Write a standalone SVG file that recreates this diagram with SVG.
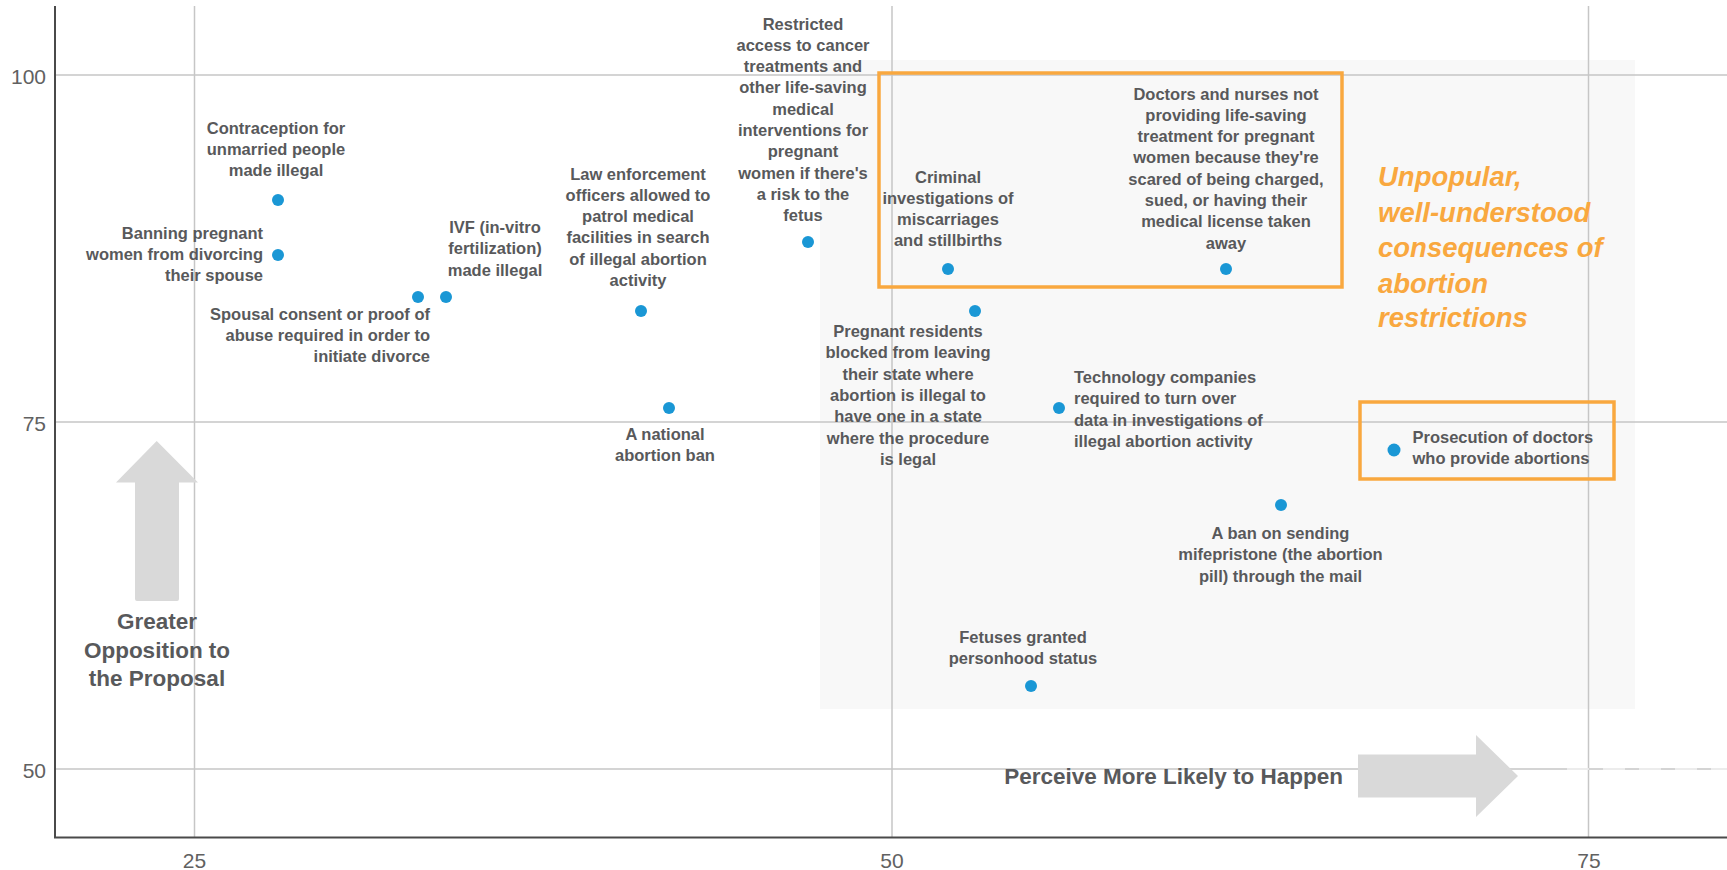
<svg xmlns="http://www.w3.org/2000/svg" width="1727" height="870" viewBox="0 0 1727 870">
<style>
.grid{stroke:#c6c6c6;stroke-width:1.5;fill:none}
.axis{stroke:#4a4a4a;stroke-width:2;fill:none}
.tick{font-family:"Liberation Sans",Arial,sans-serif;font-size:21px;fill:#616161}
.lbl{font-family:"Liberation Sans",Arial,sans-serif;font-size:16.5px;font-weight:700;fill:#58595b}
.big{font-family:"Liberation Sans",Arial,sans-serif;font-size:22.5px;font-weight:700;fill:#58595b}
.note{font-family:"Liberation Sans",Arial,sans-serif;font-size:27.5px;font-weight:700;font-style:italic;fill:#f9a83f}
.dot{fill:#1a97d5}
.hl{fill:none;stroke:#f9a83f;stroke-width:3.5}
.arrow{fill:#d9d9d9}
</style>
<rect x="0" y="0" width="1727" height="870" fill="#ffffff"/>
<rect id="zone" x="820" y="60" width="815" height="649" fill="#f8f8f8"/>
<g id="grid">
<line class="grid" x1="55" y1="75" x2="1727" y2="75"/>
<line class="grid" x1="55" y1="422" x2="1727" y2="422"/>
<line class="grid" x1="55" y1="769" x2="1727" y2="769"/>
<line class="grid" x1="194.5" y1="6" x2="194.5" y2="837"/>
<line class="grid" x1="892" y1="6" x2="892" y2="837"/>
<line class="grid" x1="1588.5" y1="6" x2="1588.5" y2="837"/>
<line x1="1567" y1="769" x2="1727" y2="769" stroke="#ffffff" stroke-width="1.6" stroke-dasharray="22 14" opacity="0.75"/>
</g>
<g id="axes">
<line class="axis" x1="55" y1="6" x2="55" y2="838"/>
<line class="axis" x1="54" y1="837.5" x2="1727" y2="837.5"/>
<text class="tick" x="46" y="84" text-anchor="end">100</text>
<text class="tick" x="46" y="431" text-anchor="end">75</text>
<text class="tick" x="46" y="778" text-anchor="end">50</text>
<text class="tick" x="194.5" y="868" text-anchor="middle">25</text>
<text class="tick" x="892" y="868" text-anchor="middle">50</text>
<text class="tick" x="1589" y="868" text-anchor="middle">75</text>
</g>
<g id="y-arrow">
<path class="arrow" d="M156.7,441 L198,482.5 L179,482.5 L179,599 Q179,601 177,601 L137,601 Q135,601 135,599 L135,482.5 L116,482.5 Z"/>
<text class="big" text-anchor="middle"><tspan x="157" y="629">Greater</tspan><tspan x="157" y="657.5">Opposition to</tspan><tspan x="157" y="686">the Proposal</tspan></text>
</g>
<g id="x-arrow">
<path class="arrow" d="M1358,754.5 L1476,754.5 L1476,735 L1518,776 L1476,817 L1476,797.5 L1358,797.5 Z"/>
<text class="big" x="1343" y="784" text-anchor="end">Perceive More Likely to Happen</text>
</g>
<g id="highlight">
<rect class="hl" x="879" y="73" width="463" height="214"/>
<rect class="hl" x="1360" y="402" width="254" height="77"/>
<text class="note"><tspan x="1378" y="186">Unpopular,</tspan><tspan x="1378" y="221.5">well-understood</tspan><tspan x="1378" y="257">consequences of</tspan><tspan x="1378" y="292.5">abortion</tspan><tspan x="1378" y="327">restrictions</tspan></text>
</g>
<g id="connectors"></g>
<g id="n-contraception">
<circle class="dot" cx="278" cy="200" r="6"/>
<text class="lbl" text-anchor="middle"><tspan x="276" y="133.5">Contraception for</tspan><tspan x="276" y="154.8">unmarried people</tspan><tspan x="276" y="176.1">made illegal</tspan></text>
</g>
<g id="n-divorce-ban">
<circle class="dot" cx="278" cy="255" r="6"/>
<text class="lbl" text-anchor="end"><tspan x="263" y="238.5">Banning pregnant</tspan><tspan x="263" y="259.8">women from divorcing</tspan><tspan x="263" y="281.1">their spouse</tspan></text>
</g>
<g id="n-spousal-consent">
<circle class="dot" cx="418" cy="297" r="6"/>
<text class="lbl" text-anchor="end"><tspan x="430" y="319.5">Spousal consent or proof of</tspan><tspan x="430" y="340.8">abuse required in order to</tspan><tspan x="430" y="362.1">initiate divorce</tspan></text>
</g>
<g id="n-ivf">
<circle class="dot" cx="446" cy="297" r="6"/>
<text class="lbl" text-anchor="middle"><tspan x="495" y="233">IVF (in-vitro</tspan><tspan x="495" y="254.3">fertilization)</tspan><tspan x="495" y="275.6">made illegal</tspan></text>
</g>
<g id="n-law-enforcement">
<circle class="dot" cx="641" cy="311" r="6"/>
<text class="lbl" text-anchor="middle"><tspan x="638" y="179.5">Law enforcement</tspan><tspan x="638" y="200.8">officers allowed to</tspan><tspan x="638" y="222.1">patrol medical</tspan><tspan x="638" y="243.4">facilities in search</tspan><tspan x="638" y="264.7">of illegal abortion</tspan><tspan x="638" y="286">activity</tspan></text>
</g>
<g id="n-national-ban">
<circle class="dot" cx="669" cy="408" r="6"/>
<text class="lbl" text-anchor="middle"><tspan x="665" y="440">A national</tspan><tspan x="665" y="461.3">abortion ban</tspan></text>
</g>
<g id="n-cancer">
<circle class="dot" cx="808" cy="242" r="6"/>
<text class="lbl" text-anchor="middle"><tspan x="803" y="29.5">Restricted</tspan><tspan x="803" y="50.8">access to cancer</tspan><tspan x="803" y="72.1">treatments and</tspan><tspan x="803" y="93.4">other life-saving</tspan><tspan x="803" y="114.7">medical</tspan><tspan x="803" y="136">interventions for</tspan><tspan x="803" y="157.3">pregnant</tspan><tspan x="803" y="178.6">women if there's</tspan><tspan x="803" y="199.9">a risk to the</tspan><tspan x="803" y="221.2">fetus</tspan></text>
</g>
<g id="n-criminal">
<circle class="dot" cx="948" cy="269" r="6"/>
<text class="lbl" text-anchor="middle"><tspan x="948" y="182.5">Criminal</tspan><tspan x="948" y="203.8">investigations of</tspan><tspan x="948" y="225.1">miscarriages</tspan><tspan x="948" y="246.4">and stillbirths</tspan></text>
</g>
<g id="n-travel">
<circle class="dot" cx="975" cy="311" r="6"/>
<text class="lbl" text-anchor="middle"><tspan x="908" y="337">Pregnant residents</tspan><tspan x="908" y="358.3">blocked from leaving</tspan><tspan x="908" y="379.6">their state where</tspan><tspan x="908" y="400.9">abortion is illegal to</tspan><tspan x="908" y="422.2">have one in a state</tspan><tspan x="908" y="443.5">where the procedure</tspan><tspan x="908" y="464.8">is legal</tspan></text>
</g>
<g id="n-tech">
<circle class="dot" cx="1059" cy="408" r="6"/>
<text class="lbl" text-anchor="start"><tspan x="1074" y="383">Technology companies</tspan><tspan x="1074" y="404.3">required to turn over</tspan><tspan x="1074" y="425.6">data in investigations of</tspan><tspan x="1074" y="446.9">illegal abortion activity</tspan></text>
</g>
<g id="n-doctors-nurses">
<circle class="dot" cx="1226" cy="269" r="6"/>
<text class="lbl" text-anchor="middle"><tspan x="1226" y="99.5">Doctors and nurses not</tspan><tspan x="1226" y="120.8">providing life-saving</tspan><tspan x="1226" y="142.1">treatment for pregnant</tspan><tspan x="1226" y="163.4">women because they're</tspan><tspan x="1226" y="184.7">scared of being charged,</tspan><tspan x="1226" y="206">sued, or having their</tspan><tspan x="1226" y="227.3">medical license taken</tspan><tspan x="1226" y="248.6">away</tspan></text>
</g>
<g id="n-prosecution">
<circle class="dot" cx="1394" cy="450" r="6.5"/>
<text class="lbl" text-anchor="start"><tspan x="1412.5" y="443">Prosecution of doctors</tspan><tspan x="1412.5" y="464.3">who provide abortions</tspan></text>
</g>
<g id="n-mifepristone">
<circle class="dot" cx="1281" cy="505" r="6"/>
<text class="lbl" text-anchor="middle"><tspan x="1280.5" y="539">A ban on sending</tspan><tspan x="1280.5" y="560.3">mifepristone (the abortion</tspan><tspan x="1280.5" y="581.6">pill) through the mail</tspan></text>
</g>
<g id="n-personhood">
<circle class="dot" cx="1031" cy="686" r="6"/>
<text class="lbl" text-anchor="middle"><tspan x="1023" y="642.5">Fetuses granted</tspan><tspan x="1023" y="663.8">personhood status</tspan></text>
</g>
</svg>
